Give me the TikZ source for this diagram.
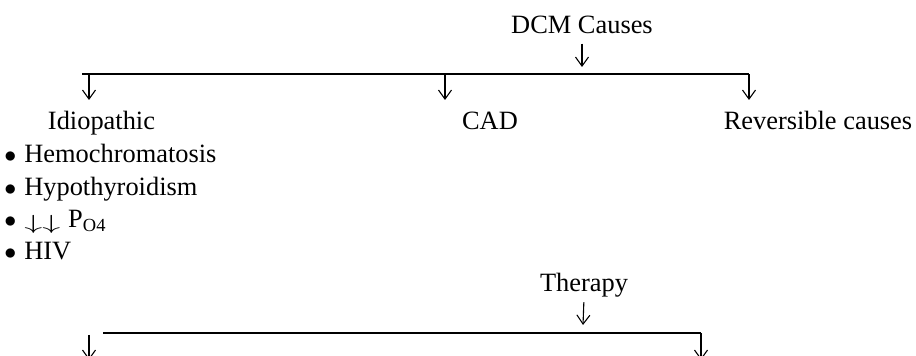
\documentclass[tikz,border=0pt]{standalone}
\usepackage{fontspec}
\setmainfont{Liberation Serif}
\usetikzlibrary{arrows.meta}
\tikzset{
    lbl/.style={inner sep=0pt, font=\fontsize{13.2}{15.8}\selectfont},
    bar/.style={line width=1pt},
    drop/.style={line width=0.55pt, -{Straight Barb[length=4.5pt,width=6.5pt,line width=0.55pt]}},
}
\newcommand{\itm}{$\bullet$\hspace{0.3em}}
\newcommand{\dndn}{\raisebox{-1pt}{\scalebox{1.5}[0.85]{$\downarrow\downarrow$}}}
\begin{document}
\begin{tikzpicture}[x=0.5pt,y=-0.5pt]
    \useasboundingbox (0,0) rectangle (916,356);
    \clip (0,0) rectangle (916,356);
    \coordinate (dcmtip) at (582,67);
    \coordinate (b1) at (82,74.5);
    \coordinate (b2) at (749,74.5);
    \coordinate (idtop) at (89,74.5);
    \coordinate (cadtop) at (445,74.5);
    \coordinate (idtip) at (89,100);
    \coordinate (cadtip) at (445,100);
    \coordinate (revtip) at (749,100);
    \coordinate (thtip) at (583,325);
    \coordinate (c1) at (103,333.5);
    \coordinate (c2) at (701,333.5);
    \coordinate (ltop) at (89,335);
    \coordinate (ltip) at (89,360);
    \coordinate (rtip) at (701,360);
    \node[lbl, anchor=base] (dcm) at (582,34) {DCM Causes};
    \node[lbl, anchor=base] (idio) at (101.5,130) {Idiopathic};
    \node[lbl, anchor=base] (cad) at (490,130) {CAD};
    \node[lbl, anchor=base] (rev) at (818,130) {Reversible causes};
    \node[lbl, anchor=base west] (hemo) at (4,163) {\itm Hemochromatosis};
    \node[lbl, anchor=base west] (hypo) at (4,196) {\itm Hypothyroidism};
    \node[lbl, anchor=base west] (phos) at (4,228) {\itm \dndn\hspace{0.3em}P\textsubscript{O4}};
    \node[lbl, anchor=base west] (hiv) at (4,260) {\itm HIV};
    \node[lbl, anchor=base] (therapy) at (584,292) {Therapy};
    \draw[drop, shorten <=4.5pt] (dcm.south) -- (dcmtip);
    \draw[bar] (b1) -- (b2);
    \draw[drop] (idtop) -- (idtip);
    \draw[drop] (cadtop) -- (cadtip);
    \draw[drop] (b2) -- (revtip);
    \draw[drop, shorten <=2pt] (therapy.south) -- (thtip);
    \draw[bar] (c1) -- (c2);
    \draw[drop] (c2) -- (rtip);
    \draw[drop] (ltop) -- (ltip);
\end{tikzpicture}
\end{document}
